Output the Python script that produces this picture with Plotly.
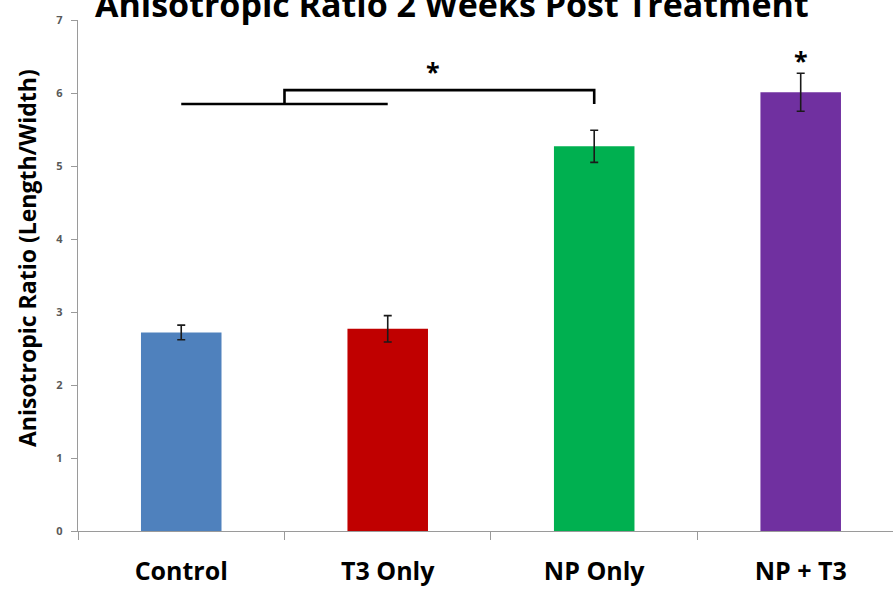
import plotly.graph_objects as go

# Anisotropic ratio (length/width) per treatment group, mean ± error
groups = ["Control", "T3 Only", "NP Only", "NP + T3"]
ratio = [2.72, 2.77, 5.27, 6.01]
ratio_err = [0.10, 0.18, 0.22, 0.26]
bar_colors = ["#4F81BD", "#C00000", "#00B050", "#7030A0"]
y_ticks = [0, 1, 2, 3, 4, 5, 6, 7]

FONT = "Open Sans"

fig = go.Figure()
fig.add_trace(go.Bar(
    x=groups,
    y=ratio,
    marker=dict(color=bar_colors, line=dict(width=0)),
    width=0.39,
    error_y=dict(type="data", array=ratio_err, visible=True,
                 color="#1a1a1a", thickness=1.6, width=4),
    showlegend=False,
))

# significance bracket: Control/T3 pair vs NP Only
line_style = dict(color="black", width=2.6)
fig.add_shape(type="line", xref="x", yref="y", x0=0, x1=1, y0=5.85, y1=5.85, line=line_style)
fig.add_shape(type="path", xref="x", yref="y",
              path="M 0.5,5.85 L 0.5,6.04 L 2,6.04 L 2,5.85", line=line_style)
star_font = dict(family=FONT, size=25, color="black", weight="bold")
fig.add_annotation(x=1.22, y=6.34, xref="x", yref="y", text="*", showarrow=False,
                   yanchor="middle", yshift=-3, font=star_font)
fig.add_annotation(x=3, y=6.52, xref="x", yref="y", text="*", showarrow=False,
                   yanchor="middle", yshift=-5, font=star_font)

# title and y-axis label
fig.add_annotation(x=0.5, y=1, xref="paper", yref="paper", text="<b>Anisotropic Ratio 2 Weeks Post Treatment</b>",
                   showarrow=False, xanchor="center", yanchor="bottom", yshift=-9,
                   xshift=(451.5 - 485.5),
                   font=dict(family=FONT, size=34, color="black"))
fig.add_annotation(x=-0.0626, y=0.534, xref="paper", yref="paper", text="<b>Anisotropic Ratio (Length/Width)</b>",
                   showarrow=False, textangle=-90, xanchor="center", yanchor="middle",
                   font=dict(family=FONT, size=23, color="black"))

fig.update_layout(
    width=893, height=589,
    margin=dict(l=78, r=0, t=20, b=58),
    paper_bgcolor="white", plot_bgcolor="white",
    font=dict(family=FONT),
)
fig.update_xaxes(
    range=[-0.5, 3.447],
    showline=True, linecolor="#9a9a9a", linewidth=1.3,
    ticks="outside", tickson="boundaries", ticklen=8, tickcolor="#9a9a9a", tickwidth=1.3,
    tickfont=dict(family=FONT, size=25, color="black", weight="bold"),
    ticklabelstandoff=18,
    showgrid=False, zeroline=False,
)
fig.update_yaxes(
    range=[0, 7], tickvals=y_ticks,
    showline=True, linecolor="#9a9a9a", linewidth=1.3,
    ticks="outside", ticklen=6, tickcolor="#9a9a9a", tickwidth=1.3,
    tickfont=dict(family=FONT, size=11, color="#595959", weight="bold"),
    ticklabelstandoff=6,
    showgrid=False, zeroline=False,
)

fig.write_html("out.html")
